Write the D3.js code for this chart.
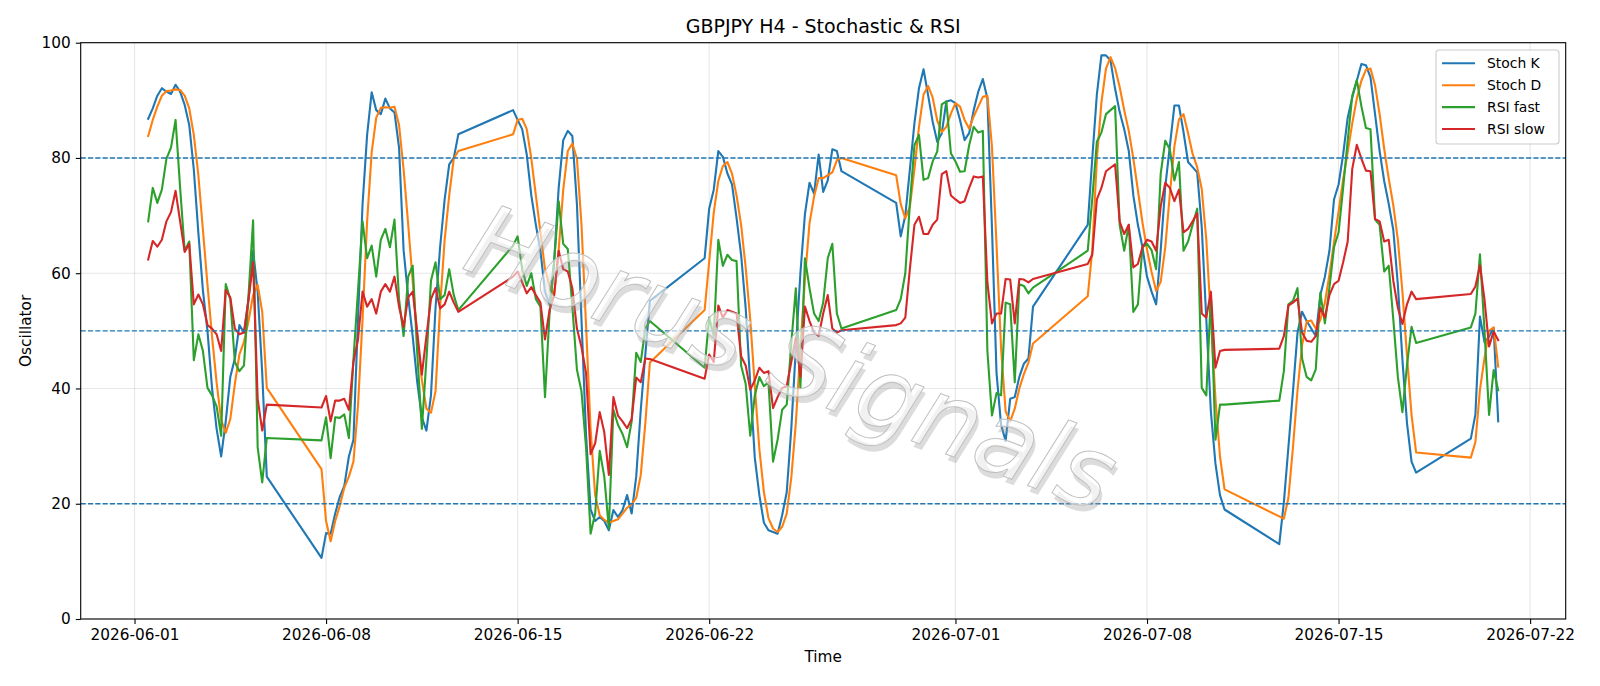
<!DOCTYPE html>
<html>
<head>
<meta charset="utf-8">
<script src="https://cdn.jsdelivr.net/npm/d3@7"></script>
<style>
  html, body { margin: 0; padding: 0; background: #fff; }
  svg { display: block; font-family: "DejaVu Sans", sans-serif; }
</style>
</head>
<body>
<div id="chart"></div>
<script>
// H4 bars, one trading session per week (Sun 20:00 -> Fri 20:00)
var sessionStarts = ["2026-06-01 12:00", "2026-06-07 20:00", "2026-06-14 20:00", "2026-06-21 20:00",
                     "2026-06-28 20:00", "2026-07-05 20:00", "2026-07-12 20:00", "2026-07-19 20:00"]
var sessionBars = [27, 31, 31, 31, 31, 31, 31, 7]

var stochK = [
  86.8, 88.6, 90.8, 92.1, 91.5, 91.1, 92.7, 91.5, 89.2, 85.7, 78, 67, 57, 50, 40, 33, 28.2, 34.3, 42, 45.2, 51, 49.7, 55.5, 63.9, 56.8, 42.7, 24.7,
  10.6, 14.9, 14.8, 18.3, 21.2, 23.1, 28.2, 31.1, 52, 72, 84, 91.4, 88.3, 87.6, 90.3, 88.6, 87.9, 81.8, 64, 56, 49, 41, 35, 32.7, 38.8, 54, 64.5, 72.8, 78.9, 80, 84.1,
  88.3, 86.6, 85, 80.6, 73.5, 68.4, 63.9, 56.8, 54.6, 61.9, 74.8, 83.1, 84.7, 83.8, 72, 52, 32, 19, 17, 17.7, 17, 15.4, 18.9, 17.7, 18.9, 21.5, 18.3, 24.7, 36.3, 45.9, 55.2,
  62.6, 71.2, 74.5, 81.2, 80.2, 77.3, 75.4, 69.6, 63.2, 54, 41, 28, 21.5, 16.7, 15.4, 15.1, 14.8, 18, 22, 33, 47, 60, 70.3, 75.7, 73.8, 80.6, 74.1, 76.1, 81.5, 81.2, 77.7,
  72.2, 66.4, 70, 78, 86, 92.1, 95.4, 90.9, 86.3, 82.8, 84.3, 89.8, 90, 89.5, 86.6, 83.1, 84.3, 88.3, 91.5, 93.7, 90.3, 68, 42.7, 33.7, 30.9, 38.2, 38.5, 42, 44.3, 45.2, 54.2,
  68.4, 80, 91, 97.8, 97.8, 96.9, 92, 88, 85, 81.2, 73.5, 68.4, 64.5, 59.4, 56.8, 54.6, 64, 75, 82, 89.1, 89.1, 84.5, 79.3, 78.4, 77.5, 68, 52, 36, 27, 21.5, 19,
  13, 20.2, 29.8, 39.5, 49.7, 53.3, 51.7, 50.4, 49.1, 56.2, 59.4, 63.9, 72.8, 75.4, 80.6, 87, 90.5, 93.4, 96.3, 96.1, 94, 87.6, 81.2, 76, 72, 67.5, 58, 45, 34, 27.3, 25.4,
  31.3, 35.5, 52.5, 48, 49, 50.5, 34.3
]
var stochD = [
  83.8, 86.6, 88.9, 90.8, 91.6, 91.7, 91.9, 91.8, 90.8, 88.6, 84, 77, 67.5, 58, 49, 41, 34.5, 32.3, 34.7, 40.8, 45.9, 48.1, 51.7, 56.2, 58, 53.3, 40.1,
  26, 17, 13.5, 17, 19.6, 22.8, 24.7, 27.3, 37, 52, 69, 81, 87, 88.7, 88.8, 88.7, 88.9, 85.7, 78, 68.5, 58.5, 49, 41.5, 36.5, 35.8, 39.5, 54.2, 65.8, 73.5, 79.9, 81.2,
  84.1, 86.6, 86.8, 85, 79.9, 73.5, 67.1, 60.7, 57.8, 56.2, 64, 74.5, 81.2, 82.5, 79.9, 68.5, 51, 33, 21.5, 18, 17.2, 16.7, 17, 17.3, 18.3, 19.3, 19.9, 21, 25, 34, 44.5,
  53.6, 62, 70.5, 76, 78.6, 79.3, 77.3, 73.5, 68.4, 61, 52, 40.5, 29.5, 22, 17.5, 15.7, 15.1, 16, 18.3, 24.5, 34, 47, 59, 68.7, 73.3, 76.5, 76.5, 77, 77.5, 79.6, 80,
  77, 72, 69.5, 71.5, 78, 85.4, 91, 92.5, 90.5, 86.5, 84.5, 85.4, 87.7, 89.5, 88.9, 86.6, 85.1, 87.2, 88.9, 90.6, 90.8, 82, 65, 47, 36, 34.3, 36.5, 40, 42.5, 44.5, 47.8,
  56, 64, 79.8, 89.6, 95.5, 97.5, 95.6, 92.3, 88.3, 84.7, 79.9, 74.4, 68.8, 64.1, 60.2, 56.9, 58.5, 64.5, 73.7, 82, 86.7, 87.6, 84.3, 80.7, 78.4, 74.6, 65.8, 52, 38.3, 28.2, 22.5,
  17.8, 17.4, 21, 29.8, 39.7, 47.5, 51.6, 51.8, 50.4, 51.9, 54.9, 59.8, 65.4, 70.7, 76.3, 81, 86, 90.3, 93.4, 95.3, 95.5, 92.6, 87.6, 81.6, 76.4, 71.8, 65.8, 56.8, 45.7, 35.4, 28.9,
  28, 30.7, 39.8, 45.3, 50, 50.6, 43.8
]
var rsiFast = [
  69, 74.8, 72.2, 74.5, 79.9, 81.8, 86.6, 74.8, 63.9, 65.5, 44.9, 49.4, 46.5, 40.1, 38.8, 36.9, 31.8, 58.1, 55.5, 44.6, 43, 44, 56.2, 69.2, 29.8, 23.7, 31.4,
  31, 35, 27.9, 35, 34.9, 35.5, 31.4, 45, 57, 69, 62.6, 64.8, 59.4, 65.8, 67.7, 64.5, 69.3, 55.5, 49.1, 59.4, 61.3, 46, 33, 45, 58.7, 61.9, 55.5, 56.2, 60.7, 56.2, 53.6,
  64.8, 66.4, 60.7, 57.8, 60, 55.5, 54.2, 38.5, 53, 61.9, 72.5, 65.1, 64.2, 54.2, 43.3, 39.5, 29.8, 14.8, 18.3, 29.2, 24.7, 15.7, 36.3, 33.7, 32.1, 29.8, 34.3, 46.2, 44.6, 50.4, 51.7,
  43.6, 52.3, 49.1, 65.8, 61.3, 63.2, 62.3, 62.1, 44, 40.8, 31.8, 38.8, 42, 40.4, 41.1, 27.3, 31.1, 36.3, 37.2, 47.8, 57.4, 40.1, 62.6, 57.4, 53, 51.7, 54.9, 62.6, 65.1, 53, 50.4,
  53.6, 55.5, 60, 72, 82.2, 84, 76.2, 76.5, 79.4, 81.1, 89.3, 89.8, 80.8, 79.4, 77.6, 77.7, 82.2, 85.4, 84.4, 84.7, 46.5, 35.3, 39.2, 38.8, 54.9, 54.6, 41.1, 58.1, 57.8, 56.5, 57.5,
  63.9, 73, 82.8, 84.4, 87.6, 88.3, 89, 68.4, 63.9, 68.4, 53.3, 54.6, 64.5, 65.1, 64, 60.7, 77.3, 83, 81.5, 76.1, 79.3, 63.9, 65.5, 68.4, 71.2, 40.1, 38.8, 56.2, 31.1, 37.2, 37.2,
  37.9, 43, 54.6, 55.2, 57.4, 45.2, 42, 41.4, 43.3, 56.6, 51.3, 57.5, 64.5, 67.1, 74.8, 83, 90.8, 93.5, 89, 85.2, 85, 69.3, 68.4, 60.3, 61.3, 52, 42, 35.9, 44, 50.7, 47.9,
  50.6, 53, 63.3, 50, 35.4, 43.2, 39.7
]
var rsiSlow = [
  62.4, 65.6, 64.6, 65.8, 69, 70.6, 74.3, 69, 63.7, 65.1, 54.6, 56.3, 54.6, 51, 50.4, 49.4, 46.5, 57.1, 55.8, 50.4, 49.4, 49.7, 55.5, 61.9, 38.2, 32.7, 37.2,
  36.7, 38.7, 34.3, 37.9, 37.9, 38.2, 36.3, 44.6, 48.5, 56.8, 54.2, 55.5, 53, 56.8, 58.1, 56.8, 59.4, 54.2, 50.7, 55.8, 56.8, 49.7, 42.4, 49.1, 55.5, 57.4, 53.9, 54.6, 56.8, 54.9, 53.3,
  59.4, 60.3, 58.4, 56.5, 57.6, 56.2, 54.9, 48.5, 53.6, 56.2, 63.9, 60.7, 60.3, 57.4, 50.4, 47.2, 42.7, 28.6, 30.5, 35.9, 32.4, 25, 38.5, 35.3, 34.3, 33.1, 34.7, 41.9, 41.1, 45.2, 45.1,
  41.7, 45.9, 44.6, 54.4, 52.3, 53.6, 53.3, 53, 45.6, 44, 39.8, 41.4, 43.6, 42.7, 43, 36.6, 38.5, 40.1, 40.4, 44.6, 48.8, 42, 54.2, 51.7, 49.7, 49.1, 53, 56.2, 50.4, 49.7, 50.1,
  51, 51.3, 52.3, 60.7, 68.4, 69.8, 66.8, 66.8, 68.4, 69.3, 77.2, 77.7, 73.5, 72.8, 72.2, 72.5, 74.8, 76.8, 76.6, 76.8, 58.4, 51.3, 53, 53, 59, 58.9, 51.3, 59, 58.9, 58.4, 59,
  61.6, 63.2, 72.8, 74.8, 77.7, 78.3, 78.9, 69, 66.8, 68.4, 61, 61.6, 64.5, 65.8, 65.5, 63.9, 71.6, 75.7, 74.8, 72.5, 74.5, 67.1, 67.7, 69, 70.4, 53, 52.3, 56.8, 43.6, 46.5, 46.7,
  46.9, 49.1, 54.4, 54.9, 55.6, 49.7, 48.3, 48.1, 49.1, 54, 52.3, 56.2, 58.1, 58.7, 61.9, 65.5, 78.1, 82.3, 79.9, 77.8, 77.7, 69.4, 69, 65.5, 65.8, 58.7, 54, 51.2, 54.6, 56.8, 55.5,
  56.4, 57.7, 61.4, 55.4, 47.3, 49.9, 48.4
]

var xTickDates = ["2026-06-01", "2026-06-08", "2026-06-15", "2026-06-22", "2026-07-01", "2026-07-08", "2026-07-15", "2026-07-22"]
var yTicks = [0, 20, 40, 60, 80, 100]
var levels = [20, 50, 80]

var seriesNames = ["Stoch K", "Stoch D", "RSI fast", "RSI slow"]
var seriesColors = ["#1f77b4", "#ff7f0e", "#2ca02c", "#d62728"]

var W = 1600, H = 686
var margin = {top: 42.7, right: 34.3, bottom: 67, left: 80.7}
var width = W - margin.left - margin.right,
    height = H - margin.top - margin.bottom

var parseTime = d3.timeParse("%Y-%m-%d %H:%M")
var parseDay = d3.timeParse("%Y-%m-%d")

// build the bar times of each weekly session
var times = []
sessionStarts.forEach(function(s, i) {
  var t0 = parseTime(s)
  for (var b = 0; b < sessionBars[i]; b++) times.push(d3.timeHour.offset(t0, 4 * b))
})

var allSeries = [stochK, stochD, rsiFast, rsiSlow]

var svg = d3.select("#chart")
  .append("svg")
    .attr("width", W)
    .attr("height", H)

var g = svg.append("g")
    .attr("transform", "translate(" + margin.left + "," + margin.top + ")")

// x scale with matplotlib's 5% margin
var tMin = +times[0], tMax = +times[times.length - 1]
var pad = 0.05 * (tMax - tMin)
var x = d3.scaleTime()
  .domain([new Date(tMin - pad), new Date(tMax + pad)])
  .range([0, width])
var y = d3.scaleLinear()
  .domain([0, 100])
  .range([height, 0])

var xTicks = xTickDates.map(parseDay)

// grid
g.append("g").selectAll("line")
  .data(xTicks)
  .enter().append("line")
    .attr("x1", function(d) { return x(d) }).attr("x2", function(d) { return x(d) })
    .attr("y1", 0).attr("y2", height)
    .attr("stroke", "#b0b0b0").attr("stroke-opacity", 0.3).attr("stroke-width", 1.1)
g.append("g").selectAll("line")
  .data(yTicks)
  .enter().append("line")
    .attr("x1", 0).attr("x2", width)
    .attr("y1", function(d) { return y(d) }).attr("y2", function(d) { return y(d) })
    .attr("stroke", "#b0b0b0").attr("stroke-opacity", 0.3).attr("stroke-width", 1.1)

// series
var line = d3.line()
  .x(function(d) { return x(d[0]) })
  .y(function(d) { return y(d[1]) })

allSeries.forEach(function(vals, i) {
  g.append("path")
    .datum(times.map(function(t, j) { return [t, vals[j]] }))
    .attr("fill", "none")
    .attr("stroke", seriesColors[i])
    .attr("stroke-width", 2.1)
    .attr("stroke-linejoin", "round")
    .attr("stroke-linecap", "square")
    .attr("d", line)
})

// reference levels
g.append("g").selectAll("line")
  .data(levels)
  .enter().append("line")
    .attr("x1", 0).attr("x2", width)
    .attr("y1", function(d) { return y(d) }).attr("y2", function(d) { return y(d) })
    .attr("stroke", "#1f77b4")
    .attr("stroke-width", 1.4)
    .attr("stroke-dasharray", "5.1,2.2")

// watermark
var wm = g.append("g")
  .attr("transform", "translate(" + (792 - margin.left) + "," + (358 - margin.top) + ") rotate(21)")
  .style("pointer-events", "none")
wm.append("text")
  .attr("x", 4).attr("y", 5)
  .attr("text-anchor", "middle").attr("dominant-baseline", "central")
  .style("font-size", "100px").style("font-style", "italic")
  .attr("fill", "#9a9a9a").attr("fill-opacity", 0.35)
  .text("Horus Signals")
wm.append("text")
  .attr("text-anchor", "middle").attr("dominant-baseline", "central")
  .style("font-size", "100px").style("font-style", "italic")
  .attr("fill", "#ffffff").attr("fill-opacity", 0.6)
  .attr("stroke", "#c0c0c0").attr("stroke-width", 1)
  .text("Horus Signals")

// axes
var xAxis = g.append("g")
  .attr("transform", "translate(0," + height + ")")
  .call(d3.axisBottom(x).tickValues(xTicks).tickFormat(d3.timeFormat("%Y-%m-%d")).tickSize(4.9).tickPadding(5))
var yAxis = g.append("g")
  .call(d3.axisLeft(y).tickValues(yTicks).tickSize(4.9).tickPadding(5))
xAxis.select(".domain").remove()
yAxis.select(".domain").remove()
svg.selectAll(".tick line").attr("stroke", "#000").attr("stroke-width", 1.1)
svg.selectAll(".tick text")
  .style("font-family", "DejaVu Sans, sans-serif")
  .style("font-size", "15.3px")
  .attr("fill", "#000")

// spines
g.append("rect")
  .attr("width", width).attr("height", height)
  .attr("fill", "none").attr("stroke", "#000").attr("stroke-width", 1.1)

// labels
svg.append("text")
  .attr("x", margin.left + width / 2).attr("y", 33)
  .attr("text-anchor", "middle")
  .style("font-size", "19px")
  .text("GBPJPY H4 - Stochastic & RSI")
svg.append("text")
  .attr("x", margin.left + width / 2).attr("y", 662)
  .attr("text-anchor", "middle")
  .style("font-size", "15.3px")
  .text("Time")
svg.append("text")
  .attr("transform", "translate(31," + (margin.top + height / 2) + ") rotate(-90)")
  .attr("text-anchor", "middle")
  .style("font-size", "15.3px")
  .text("Oscillator")

// legend
var lg = svg.append("g").attr("transform", "translate(1436,50)")
lg.append("rect")
  .attr("width", 123).attr("height", 94).attr("rx", 3)
  .attr("fill", "#fff").attr("fill-opacity", 0.8)
  .attr("stroke", "#cccccc").attr("stroke-width", 1.1)
seriesNames.forEach(function(name, i) {
  var yy = 13.3 + i * 21.9
  lg.append("line")
    .attr("x1", 6).attr("x2", 39).attr("y1", yy).attr("y2", yy)
    .attr("stroke", seriesColors[i]).attr("stroke-width", 2.1)
  lg.append("text")
    .attr("x", 51).attr("y", yy + 5)
    .style("font-size", "13.9px")
    .text(name)
})
</script>
</body>
</html>
